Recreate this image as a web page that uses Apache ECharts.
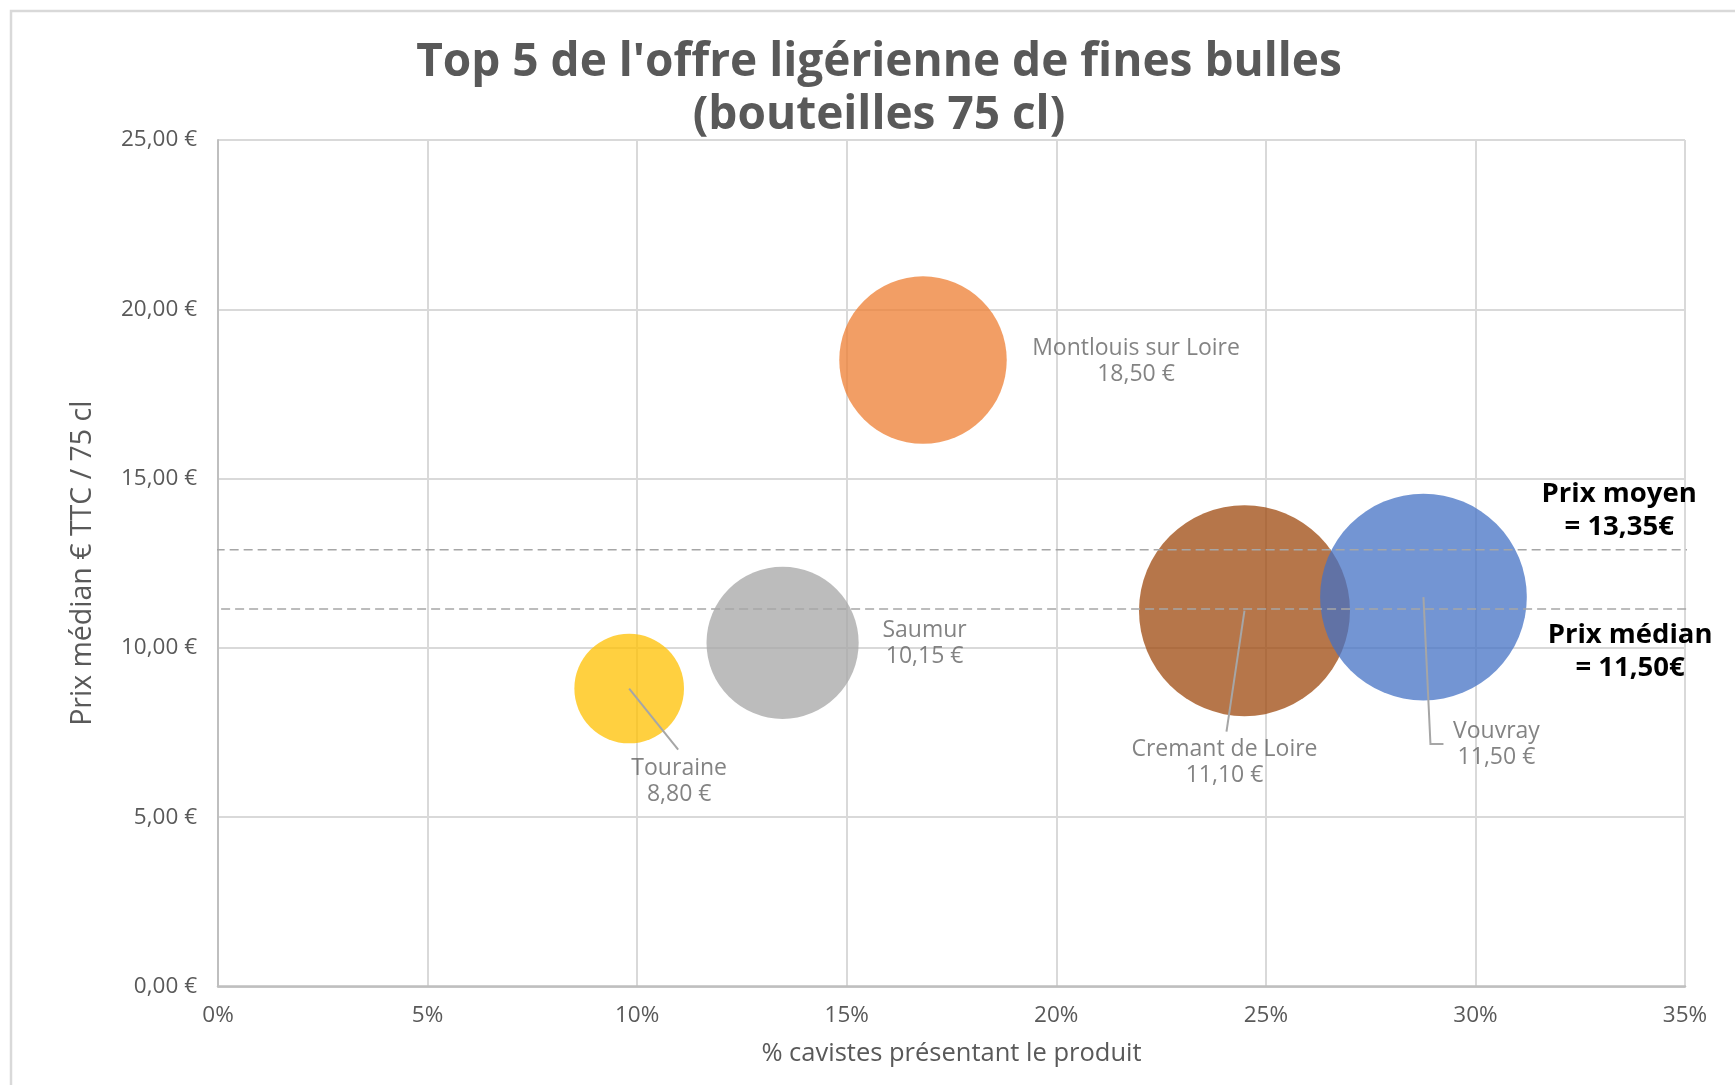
<!DOCTYPE html>
<html>
<head>
<meta charset="utf-8">
<script src="https://cdn.jsdelivr.net/npm/echarts@6/dist/echarts.min.js"></script>
<style>
  html, body { margin: 0; padding: 0; background: #fff; }
  #chart { width: 1735px; height: 1085px; }
</style>
</head>
<body>
<div id="chart"></div>
<script>
// appellations, dans l'ordre de tracé
var appellations = ['Touraine', 'Saumur', 'Montlouis sur Loire', 'Cremant de Loire', 'Vouvray'];
// % cavistes présentant le produit
var partCavistes = [9.81, 13.47, 16.82, 24.49, 28.76];
// prix médian € TTC / 75 cl
var prixMedian = [8.80, 10.15, 18.50, 11.10, 11.50];
// taille relative des bulles
var tailleBulles = [27, 52, 63, 100, 96];
var couleurs = ['#FFC000', '#A5A5A5', '#ED7D31', '#9E480E', '#4472C4'];

// lignes de référence (niveau) et leurs libellés
var ligneMoyen = 12.9;
var ligneMedian = 11.15;
var texteMoyen = ['Prix moyen', '= 13,35€'];
var texteMedian = ['Prix médian', '= 11,50€'];

var FONT = 'Open Sans';
var GRIS = '#595959';

// décalage des étiquettes (px, depuis le centre de la bulle)
var decalages = [[50, 93], [142, 1], [213, 1], [-20, 152], [73, 147]];
// lignes de rappel (px, depuis le centre de la bulle)
var rappels = {
  0: [[0, 0], [49, 61]],
  3: [[0, 0], [-18, 121]],
  4: [[0, 0], [7, 147], [20, 147]]
};

function euro(v) {
  return v.toFixed(2).replace('.', ',') + ' €';
}

var chart = echarts.init(document.getElementById('chart'));

var bulles = appellations.map(function (nom, i) {
  return {
    name: nom,
    value: [partCavistes[i], prixMedian[i], tailleBulles[i]],
    itemStyle: { color: couleurs[i] },
    label: { offset: decalages[i] }
  };
});

function ligneRef(y, x0, x1, note, pos) {
  return {
    type: 'line',
    data: [[x0, y], [x1, y]],
    clip: false,
    symbol: 'none',
    silent: true,
    z: 5,
    lineStyle: { color: '#A6A6A6', width: 1.5, type: [9, 5] },
    markPoint: {
      symbol: 'circle',
      symbolSize: 0,
      silent: true,
      data: [{ name: note.join('\n'), coord: pos }],
      label: {
        show: true,
        position: 'inside',
        formatter: '{b}',
        color: '#000',
        fontFamily: FONT,
        fontWeight: 'bold',
        fontSize: 27.5,
        lineHeight: 33,
        align: 'center'
      }
    }
  };
}

var option = {
  animation: false,
  backgroundColor: '#fff',
  title: {
    text: "Top 5 de l'offre ligérienne de fines bulles\n(bouteilles 75 cl)",
    left: 874,
    top: 31,
    textAlign: 'center',
    textStyle: {
      color: GRIS,
      fontFamily: FONT,
      fontWeight: 'bold',
      fontSize: 46,
      lineHeight: 53
    }
  },
  grid: { left: 218, right: 50, top: 140, bottom: 98.5 },
  xAxis: {
    type: 'value',
    min: 0,
    max: 35,
    interval: 5,
    name: '% cavistes présentant le produit',
    nameLocation: 'middle',
    nameGap: 54,
    nameTextStyle: { color: GRIS, fontFamily: FONT, fontSize: 25.5 },
    axisLine: { show: true, lineStyle: { color: '#BFBFBF', width: 2.5 } },
    axisTick: { show: false },
    axisLabel: {
      color: GRIS, fontFamily: FONT, fontSize: 22.5, margin: 18,
      formatter: function (v) { return v + '%'; }
    },
    splitLine: { show: true, lineStyle: { color: '#D9D9D9', width: 2 } }
  },
  yAxis: {
    type: 'value',
    min: 0,
    max: 25,
    interval: 5,
    name: 'Prix médian € TTC / 75 cl',
    nameLocation: 'middle',
    nameGap: 121,
    nameTextStyle: { color: GRIS, fontFamily: FONT, fontSize: 28.5 },
    axisLine: { show: true, lineStyle: { color: '#BFBFBF', width: 2 } },
    axisTick: { show: false },
    axisLabel: {
      color: GRIS, fontFamily: FONT, fontSize: 22.5, margin: 21,
      formatter: euro
    },
    splitLine: { show: true, lineStyle: { color: '#D9D9D9', width: 2 } }
  },
  series: [
    {
      type: 'scatter',
      data: bulles,
      z: 2,
      symbolSize: function (v) { return 211 * Math.sqrt(v[2] / 100); },
      itemStyle: { opacity: 0.75 },
      emphasis: { disabled: true },
      label: {
        show: true,
        position: 'inside',
        align: 'center',
        color: GRIS,
        fontFamily: FONT,
        fontSize: 23,
        lineHeight: 26,
        formatter: function (p) { return p.name + '\n' + euro(p.value[1]); }
      }
    },
    ligneRef(ligneMoyen, -0.39, 35.53, texteMoyen, [33.43, 14.06]),
    ligneRef(ligneMedian, -0.26, 35.17, texteMedian, [33.69, 9.9])
  ]
};

chart.setOption(option);

// cadre + lignes de rappel des étiquettes
var elements = [{
  type: 'rect',
  shape: { x: 11, y: 11, width: 1760, height: 1110 },
  style: { fill: null, stroke: '#D9D9D9', lineWidth: 2.5 },
  silent: true
}];
Object.keys(rappels).forEach(function (k) {
  var c = chart.convertToPixel({ seriesIndex: 0 }, [partCavistes[k], prixMedian[k]]);
  elements.push({
    type: 'polyline',
    z: 10,
    silent: true,
    shape: { points: rappels[k].map(function (p) { return [c[0] + p[0], c[1] + p[1]]; }) },
    style: { fill: null, stroke: '#A6A6A6', lineWidth: 2 }
  });
});
chart.setOption({ graphic: elements });
</script>
</body>
</html>
